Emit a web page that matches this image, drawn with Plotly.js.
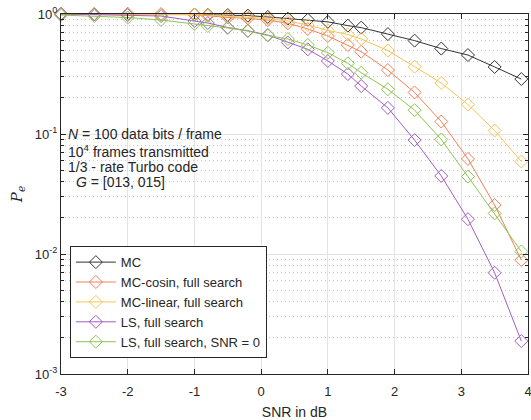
<!DOCTYPE html>
<html>
<head>
<meta charset="utf-8">
<script src="https://cdn.plot.ly/plotly-3.0.1.min.js"></script>
<style>html,body{margin:0;padding:0;background:#fff}#chart{width:531px;height:420px}</style>
</head>
<body>
<div id="chart"></div>
<script>
// SNR values (dB)
const snr = [-3, -2.5, -2, -1.5, -1, -0.8, -0.5, -0.2, 0.1, 0.4, 0.7, 1.0, 1.3, 1.5, 1.9, 2.3, 2.7, 3.1, 3.5, 3.9];

const seriesNames = ['MC', 'MC-cosin, full search', 'MC-linear, full search', 'LS, full search', 'LS, full search, SNR = 0'];

const peMC       = [1.0, 1.0, 1.0, 0.995, 0.99, 0.985, 0.98, 0.97, 0.945, 0.915, 0.895, 0.86, 0.80, 0.77, 0.68, 0.60, 0.515, 0.455, 0.362, 0.287];
const peMCcosin  = [1.0, 0.995, 0.995, 0.99, 0.985, 0.968, 0.935, 0.92, 0.89, 0.837, 0.75, 0.655, 0.552, 0.485, 0.341, 0.222, 0.127, 0.062, 0.0256, 0.0089];
const peMClinear = [1.0, 1.0, 0.995, 0.995, 0.99, 0.98, 0.96, 0.944, 0.917, 0.874, 0.81, 0.73, 0.675, 0.619, 0.496, 0.364, 0.266, 0.176, 0.107, 0.059];
const peLS       = [1.0, 0.99, 0.98, 0.962, 0.874, 0.841, 0.772, 0.726, 0.668, 0.579, 0.508, 0.406, 0.316, 0.251, 0.165, 0.089, 0.0447, 0.0195, 0.00698, 0.00188];
const peLS0      = [0.98, 0.962, 0.935, 0.891, 0.826, 0.794, 0.765, 0.72, 0.662, 0.619, 0.552, 0.476, 0.388, 0.324, 0.236, 0.158, 0.090, 0.0442, 0.0218, 0.0105];

const colors = ['#333333', '#F0805A', '#F8C458', '#A35CC2', '#8DC453'];
const allSeries = [peMC, peMCcosin, peMClinear, peLS, peLS0];

const xTickVals = [-3, -2, -1, 0, 1, 2, 3, 4];
const xTickText = ['-3', '-2', '-1', '0', '1', '2', '3', '4'];
const yTickVals = [1, 0.1, 0.01, 0.001];
const yTickText = ['10<sup>0</sup>', '10<sup>-1</sup>', '10<sup>-2</sup>', '10<sup>-3</sup>'];

const minorVals = [];
for (let e = -3; e < 0; e++) for (let m = 2; m <= 9; m++) minorVals.push(m * Math.pow(10, e));

const traces = allSeries.map((ys, i) => ({
  x: snr, y: ys, name: seriesNames[i], type: 'scatter', mode: 'lines+markers',
  line: {color: colors[i], width: 1},
  marker: {symbol: 'diamond-open', size: 10, color: colors[i], line: {width: 1, color: colors[i]}},
  cliponaxis: false
}));

const font = {family: 'Liberation Sans, Arial, sans-serif', color: '#262626'};

const annLines = [
  '<i>N</i> = 100 data bits / frame',
  '10<sup>4</sup> frames transmitted',
  '1/3 - rate Turbo code',
  ' <i>G</i> = [013, 015]'
];
const annY = [134, 151, 167, 182];
const annX = [66, 66, 66, 70];

const layout = {
  width: 531, height: 420,
  margin: {l: 61, r: 3, t: 14, b: 46},
  paper_bgcolor: '#fff', plot_bgcolor: '#fff',
  font: Object.assign({size: 13}, font),
  showlegend: true,
  legend: {
    x: 0.019, y: 0.044, xanchor: 'left', yanchor: 'bottom',
    bgcolor: '#fff', bordercolor: '#262626', borderwidth: 1,
    font: Object.assign({size: 13}, font), itemwidth: 40, tracegroupgap: 0
  },
  xaxis: {
    range: [-3, 4], tickmode: 'array', tickvals: xTickVals, ticktext: xTickText,
    showgrid: true, gridcolor: '#e3e3e3', gridwidth: 1, zeroline: false,
    showline: true, linecolor: '#262626', linewidth: 1, mirror: 'ticks',
    ticks: 'inside', ticklen: 5, tickcolor: '#262626', ticklabelstandoff: 5,
    ticklabeloverflow: 'allow',
    tickfont: Object.assign({size: 13}, font),
    title: {text: 'SNR in dB', font: Object.assign({size: 14}, font), standoff: 10}
  },
  yaxis: {
    type: 'log', range: [-3, 0],
    tickmode: 'array', tickvals: yTickVals, ticktext: yTickText,
    showgrid: true, gridcolor: '#e3e3e3', gridwidth: 1, zeroline: false,
    showline: true, linecolor: '#262626', linewidth: 1, mirror: 'ticks',
    ticks: 'inside', ticklen: 5, tickcolor: '#262626',
    tickfont: Object.assign({size: 13}, font),
    minor: {tickmode: 'array', tickvals: minorVals, ticks: 'inside', ticklen: 3, tickcolor: '#262626',
            showgrid: true, gridcolor: '#c8c8c8', griddash: '1px,3px', gridwidth: 1},
    title: {text: '<i>P</i><sub><i>e</i></sub>', font: {family: 'DejaVu Serif, serif', size: 15, color: '#262626'}, standoff: 8}
  },
  annotations: annLines.map((t, i) => ({
    text: t, xref: 'paper', yref: 'paper',
    x: (annX[i] - 61) / 467, y: (374 - annY[i]) / 360,
    xanchor: 'left', yanchor: 'middle', showarrow: false,
    font: Object.assign({size: 14}, font)
  }))
};

Plotly.newPlot('chart', traces, layout, {displayModeBar: false, staticPlot: true});
</script>
</body>
</html>
